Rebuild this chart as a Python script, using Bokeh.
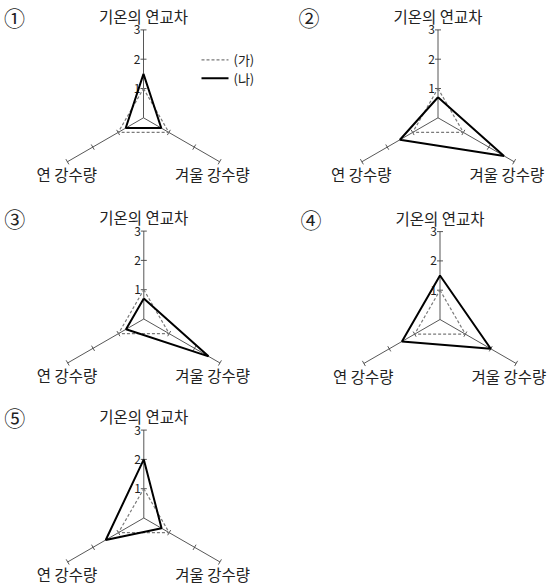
import numpy as np
from bokeh.plotting import figure
from bokeh.models import Range1d
from bokeh.core.properties import value
from bokeh.embed import file_html
from bokeh.resources import INLINE

# ---- data ----
axis_names = ["기온의 연교차", "겨울 강수량", "연 강수량"]
panel_marks = ["①", "②", "③", "④", "⑤"]
tick_values = [1, 2, 3]
tick_labels = ["1", "2", "3"]
series_names = ["(가)", "(나)"]
# (가) values per panel
ga_temp_range = [1, 1, 1, 1, 1]
ga_winter = [1, 1, 1, 1, 1]
ga_annual = [1, 1, 1, 1, 1]
# (나) values per panel
na_temp_range = [1.5, 0.7, 0.7, 1.5, 2.0]
na_winter = [0.7, 2.6, 2.55, 2.0, 0.7]
na_annual = [0.7, 1.5, 0.7, 1.5, 1.5]

# ---- layout ----
W, H = 548, 586
centers = [(143.0, 117.3), (437.5, 117.3), (143.3, 318.5), (439.5, 319.0), (143.3, 517.5)]
unit = 29.3
FONT = "Noto Sans CJK KR"
c30 = np.cos(np.radians(30))
dirs = [(0.0, -1.0), (c30, 0.5), (-c30, 0.5)]  # up, lower-right, lower-left (screen coords)

p = figure(width=W, height=H, x_range=Range1d(0, W), y_range=Range1d(H, 0),
           output_backend="svg", toolbar_location=None, min_border=0)
p.axis.visible = False
p.grid.visible = False
p.outline_line_color = None
p.background_fill_color = "white"

axis_color = "#444444"
txt = "#222222"
for k, (cx, cy) in enumerate(centers):
    # axes
    xs0, ys0, xs1, ys1 = [], [], [], []
    for dx, dy in dirs:
        xs0.append(cx); ys0.append(cy)
        xs1.append(cx + dx * unit * 3); ys1.append(cy + dy * unit * 3)
    p.segment(xs0, ys0, xs1, ys1, line_color=axis_color, line_width=0.9)
    # ticks
    tx0, ty0, tx1, ty1 = [], [], [], []
    for dx, dy in dirs:
        px, py = -dy, dx  # perpendicular
        for t in tick_values:
            mx, my = cx + dx * unit * t, cy + dy * unit * t
            tx0.append(mx - px * 3); ty0.append(my - py * 3)
            tx1.append(mx + px * 3); ty1.append(my + py * 3)
    p.segment(tx0, ty0, tx1, ty1, line_color=axis_color, line_width=0.9)
    # tick labels on up axis
    p.text([cx - 3] * 3, [cy - unit * t for t in tick_values], text=tick_labels,
           text_font=value(FONT), text_font_size="12px", text_color=txt,
           text_align="right", text_baseline="middle")
    # series
    for vals, color, dash, lw in (
        ((ga_temp_range[k], ga_winter[k], ga_annual[k]), "#7a7a7a", "3 2", 1.2),
        ((na_temp_range[k], na_winter[k], na_annual[k]), "black", "solid", 2.0),
    ):
        xs = [cx + d[0] * unit * v for d, v in zip(dirs, vals)]
        ys = [cy + d[1] * unit * v for d, v in zip(dirs, vals)]
        p.line(xs + xs[:1], ys + ys[:1], line_color=color, line_dash=dash, line_width=lw)
    # axis names
    p.text([cx], [cy - 102], text=[axis_names[0]], text_font=value(FONT), text_font_size="15.5px",
           text_color=txt, text_align="center", text_baseline="middle")
    p.text([cx + 31.5], [cy + 56], text=[axis_names[1]], text_font=value(FONT), text_font_size="15.5px",
           text_color=txt, text_align="left", text_baseline="middle")
    p.text([cx - 46.5], [cy + 56], text=[axis_names[2]], text_font=value(FONT), text_font_size="15.5px",
           text_color=txt, text_align="right", text_baseline="middle")
    # panel number
    p.text([cx - 129], [cy - 101], text=[panel_marks[k]], text_font=value(FONT), text_font_size="21px",
           text_color=txt, text_align="center", text_baseline="middle")

# legend in panel 1
cx, cy = centers[0]
p.segment([cx + 58], [cy - 58], [cx + 85], [cy - 58], line_color="#7a7a7a", line_dash="3 2", line_width=1.2)
p.segment([cx + 58], [cy - 39.5], [cx + 85], [cy - 39.5], line_color="black", line_width=2.0)
p.text([cx + 90, cx + 90], [cy - 58, cy - 39.5], text=series_names, text_font=value(FONT),
       text_font_size="13px", text_color=txt, text_align="left", text_baseline="middle")

open("out.html", "w").write(file_html(p, INLINE))
